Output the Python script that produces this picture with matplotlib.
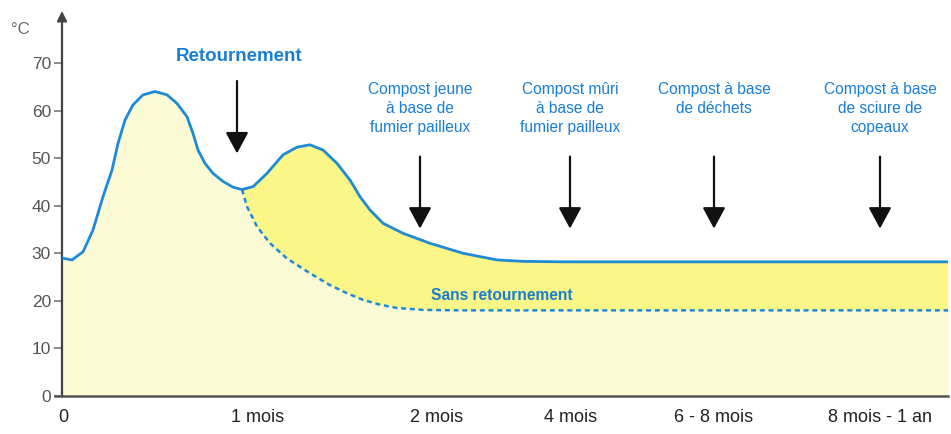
import matplotlib
matplotlib.use("Agg")
import matplotlib.pyplot as plt
import numpy as np

plt.rcParams['font.family'] = ['Liberation Sans', 'DejaVu Sans']

# x positions are offsets along the (non-linear) time axis, 0 = start
x_ticks = [1, 196, 375, 509, 652, 818]
x_labels = ["0", "1 mois", "2 mois", "4 mois", "6 - 8 mois", "8 mois - 1 an"]
y_ticks = [0, 10, 20, 30, 40, 50, 60, 70]

# Temperature with turning (Retournement)
x_turn = [0, 10, 21, 31, 41, 50, 56, 63, 71, 81, 93, 105, 115, 125, 131, 136, 143,
          151, 161, 171, 180, 191, 205, 221, 235, 248, 261, 275, 288, 298, 308, 321,
          341, 368, 401, 435, 461, 500, 600, 700, 800, 886]
y_turn = [29.0, 28.6, 30.3, 34.9, 41.9, 47.5, 53.1, 58.0, 61.2, 63.3, 64.0, 63.3,
          61.5, 58.7, 55.2, 51.7, 48.9, 46.8, 45.1, 43.9, 43.4, 44.0, 46.8, 50.7,
          52.3, 52.8, 51.7, 48.9, 45.4, 41.9, 39.1, 36.3, 34.2, 32.1, 30.0, 28.6,
          28.3, 28.2, 28.2, 28.2, 28.2, 28.2]

# Temperature without turning (Sans retournement)
x_noturn = [180, 185, 195, 208, 225, 248, 268, 285, 301, 318, 335, 361, 400, 500, 600,
            700, 800, 886]
y_noturn = [43.4, 39.8, 35.6, 32.1, 28.9, 25.8, 23.3, 21.6, 20.2, 19.2, 18.5, 18.1,
            18.0, 18.0, 18.0, 18.0, 18.0, 18.0]

arrow_x = [175, 358, 508, 652, 818]
arrow_texts = ["Compost jeune\nà base de\nfumier pailleux",
               "Compost mûri\nà base de\nfumier pailleux",
               "Compost à base\nde déchets",
               "Compost à base\nde sciure de\ncopeaux"]

W, H = 951, 434
fig = plt.figure(figsize=(W / 100, H / 100), dpi=100)
x0, x1 = 62, 948
ybot, ytop = 396, 15.4
ax = fig.add_axes([x0 / W, (H - ybot) / H, (x1 - x0) / W, (ybot - ytop) / H])
ax.set_xlim(0, 886)
ax.set_ylim(0, 80)

pale = "#fdfad6"
band = "#fbf688"
blue = "#1f8ad6"
tblue = "#1a7fd2"

ax.fill_between(x_turn, 0, y_turn, color=pale, lw=0, zorder=1)
xt = np.array(x_turn)
yt = np.array(y_turn)
mask = xt >= 180
poly_x = np.concatenate([xt[mask], np.array(x_noturn)[::-1]])
poly_y = np.concatenate([yt[mask], np.array(y_noturn)[::-1]])
ax.fill(poly_x, poly_y, color=band, lw=0, zorder=2)

ax.plot(x_turn, y_turn, color=blue, lw=2.0, zorder=4, solid_joinstyle='round')
ax.plot(x_noturn, y_noturn, color=blue, lw=1.8, ls=(0, (2.0, 1.5)), zorder=4)

# arrows
astyle = "-|>,head_length=1.3,head_width=0.7"
ax.annotate("", xy=(arrow_x[0], 50.4), xytext=(arrow_x[0], 66.8),
            arrowprops=dict(arrowstyle=astyle, color="#111111", lw=1.6), zorder=5)
for xa in arrow_x[1:]:
    ax.annotate("", xy=(xa, 34.6), xytext=(xa, 50.9),
                arrowprops=dict(arrowstyle=astyle, color="#111111", lw=1.6), zorder=5)

ax.text(arrow_x[0] + 2, 71.3, "Retournement", color=tblue, fontsize=13.5,
        fontweight='bold', ha='center', va='center', zorder=6)
for xa, t in zip(arrow_x[1:], arrow_texts):
    ax.text(xa, 65.9, t, color=tblue, fontsize=11.2, ha='center', va='top',
            linespacing=1.3, zorder=6)
ax.text(440, 21.2, "Sans retournement", color=tblue, fontsize=11.2,
        fontweight='bold', ha='center', va='center', zorder=6)

# axes styling
for s in ['top', 'right']:
    ax.spines[s].set_visible(False)
ax.spines['left'].set_color("#444444")
ax.spines['left'].set_linewidth(1.6)
ax.spines['bottom'].set_color("#555555")
ax.spines['bottom'].set_linewidth(1.8)
ax.spines['bottom'].set_bounds(-7, 886)
ax.spines['bottom'].set_position(('data', 0))
ax.set_yticks(y_ticks)
ax.set_yticklabels([str(v) for v in y_ticks], fontsize=12.5, color="#555555")
ax.tick_params(axis='y', length=6, width=1.2, color="#777777", pad=2)
ax.set_xticks(x_ticks)
ax.set_xticklabels(x_labels, fontsize=13, color="#222222")
ax.tick_params(axis='x', length=0, pad=9)
# axis arrow at top
ax.annotate("", xy=(0, 81.5), xytext=(0, 76),
            arrowprops=dict(arrowstyle="-|>,head_length=0.6,head_width=0.3",
                            color="#444444", lw=1.4), annotation_clip=False)
fig.text(20 / W, 1 - 30 / H, "°C", fontsize=12, color="#666666",
         ha='center', va='center')

fig.savefig("out.png", dpi=100)
